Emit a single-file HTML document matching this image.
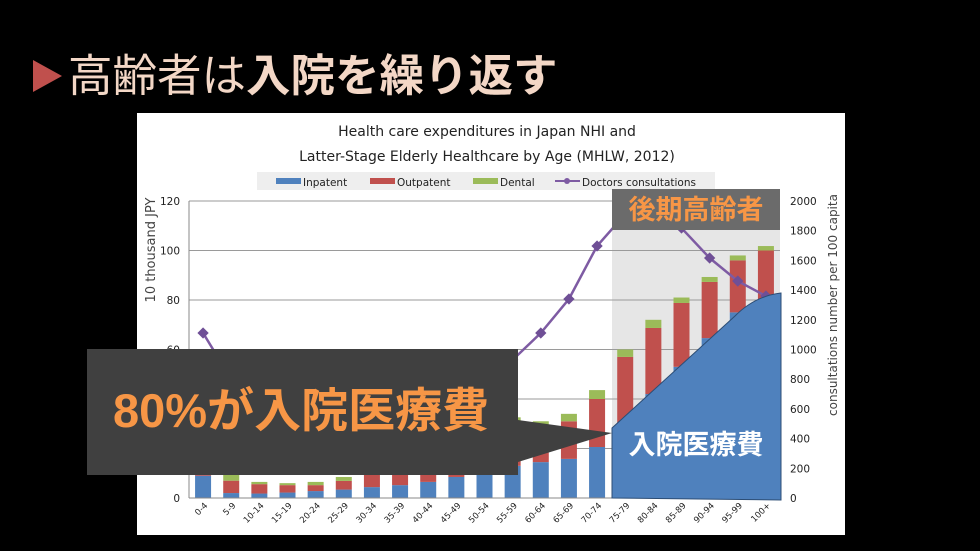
<!DOCTYPE html>
<html><head><meta charset="utf-8">
<style>
body{margin:0;background:#000;width:980px;height:551px;overflow:hidden;font-family:"Liberation Sans","Noto Sans CJK JP",sans-serif;}
</style></head>
<body>
<svg width="980" height="551" xmlns="http://www.w3.org/2000/svg" style="position:absolute;left:0;top:0">
<rect width="980" height="551" fill="#000"/>
<polygon points="33,60 33,92 62,76" fill="#c0504d"/>
<text x="68" y="91" font-size="44.5" fill="#f3d7c6" font-family="'Liberation Sans','Noto Sans CJK JP',sans-serif">高齢者は<tspan font-weight="bold">入院を繰り返す</tspan></text>
<rect x="137" y="113" width="708" height="422" fill="#fff"/>
<g font-family="'DejaVu Sans',sans-serif">
<text x="487" y="136" font-size="14" fill="#222" text-anchor="middle">Health care expenditures in Japan NHI and</text>
<text x="487" y="161" font-size="14" fill="#222" text-anchor="middle">Latter-Stage Elderly Healthcare by Age (MHLW, 2012)</text>
<g id="legend">
<rect x="257" y="172" width="458" height="18" fill="#eeeeee"/>
<rect x="276" y="178" width="25" height="6" fill="#4f81bd"/><text x="303" y="186" font-size="10.5" fill="#222">Inpatent</text>
<rect x="370" y="178" width="25" height="6" fill="#c0504d"/><text x="397" y="186" font-size="10.5" fill="#222">Outpatent</text>
<rect x="473" y="178" width="25" height="6" fill="#9bbb59"/><text x="500" y="186" font-size="10.5" fill="#222">Dental</text>
<line x1="555" y1="181" x2="580" y2="181" stroke="#7e5ba3" stroke-width="2"/><circle cx="567" cy="181" r="3" fill="#7e5ba3"/><text x="582" y="186" font-size="10.5" fill="#222">Doctors consultations</text>
</g>
<g id="chart"></g>
<text transform="translate(155,250) rotate(-90)" font-size="13" fill="#444" text-anchor="middle">10 thousand JPY</text>
<text transform="translate(837,305) rotate(-90)" font-size="12" fill="#444" text-anchor="middle">consultations number per 100 capita</text>
</g>
<rect x="612" y="189" width="168" height="41" fill="#6b6b6b"/>
<text x="696" y="219" font-size="27" font-weight="bold" fill="#f79646" text-anchor="middle">後期高齢者</text>
<path d="M612,428 L735,316 Q755,296 781,293 L781,500 L612,498 Z" fill="#4f81bd" stroke="#2c4d75" stroke-width="1"/>
<text x="696" y="454" font-size="27" font-weight="bold" fill="#fff" text-anchor="middle">入院医療費</text>
<polygon points="518,420 612,433 518,462" fill="#404040"/>
<rect x="87" y="349" width="431" height="126" fill="#404040"/>
<text x="113" y="427" font-size="47" font-weight="bold" fill="#f79646">80%が入院医療費</text>
</svg>
<script>
const categories=["0-4","5-9","10-14","15-19","20-24","25-29","30-34","35-39","40-44","45-49","50-54","55-59","60-64","65-69","70-74","75-79","80-84","85-89","90-94","95-99","100+"];
const inpatient=[9,2,1.8,2.2,2.8,3.4,4.4,5.2,6.5,8.5,11,13,14.5,15.8,20.6,30,42,53,64.6,75,80];
const outpatient=[11,5,3.8,3,2.4,3.5,6,8,9,11,13,17,14.2,15.2,19.4,27,26.7,25.8,22.7,21,20];
const dental=[2,2.3,0.9,0.8,1.3,1.6,1.8,2,2.2,2.4,2.5,2.6,2.3,3,3.6,3,3.3,2.2,2,2,1.8];
const consultations=[1111,800,500,420,480,560,620,640,680,740,820,930,1111,1340,1697,1912,1960,1818,1616,1461,1360];
const leftTicks=[0,20,40,60,80,100,120];
const rightTicks=[0,200,400,600,800,1000,1200,1400,1600,1800,2000];
const NS="http://www.w3.org/2000/svg";
const g=document.getElementById('chart');
const X0=189,X1=780,Y0=498,Y1=201;
const step=(X1-X0)/categories.length;
const xc=i=>X0+step*(i+0.5);
const yL=v=>Y0-(v/120)*(Y0-Y1);
const yR=v=>Y0-(v/2000)*(Y0-Y1);
function mk(t,a){const e=document.createElementNS(NS,t);for(const k in a)e.setAttribute(k,a[k]);g.appendChild(e);return e;}
let sh=mk('rect',{x:612,y:189,width:168,height:309,fill:'#e6e6e6'});


leftTicks.forEach(v=>{
 let l=mk('line',{x1:X0,x2:X1,y1:yL(v),y2:yL(v),stroke:'#9a9a9a','stroke-width':1});
 
 
 let t=mk('text',{x:180,y:yL(v)+4,'font-size':10.5,fill:'#222','text-anchor':'end'});t.textContent=v;
 
 
});
rightTicks.forEach(v=>{
 let t=mk('text',{x:790,y:yR(v)+4,'font-size':10.5,fill:'#222'});t.textContent=v;
 
 
});
mk('line',{x1:X0,x2:X0,y1:Y1,y2:Y0,stroke:'#888'});
const bw=16;
categories.forEach((c,i)=>{
 const x=xc(i)-bw/2;
 let a=mk('rect',{x:x,y:yL(inpatient[i]),width:bw,height:Y0-yL(inpatient[i]),fill:'#4f81bd'});
 
 
 const o=inpatient[i]+outpatient[i];
 let b=mk('rect',{x:x,y:yL(o),width:bw,height:yL(inpatient[i])-yL(o),fill:'#c0504d'});
 
 
 const d=o+dental[i];
 let e=mk('rect',{x:x,y:yL(d),width:bw,height:yL(o)-yL(d),fill:'#9bbb59'});
 
 
 let t=mk('text',{transform:`translate(${xc(i)+5},${506}) rotate(-45)`,'font-size':8.5,fill:'#222','text-anchor':'end'});t.textContent=c;
 
 
});
mk('line',{x1:X0,x2:X1,y1:Y0,y2:Y0,stroke:'#888'});
let pl=mk('polyline',{points:consultations.map((v,i)=>xc(i)+','+yR(v)).join(' '),fill:'none',stroke:'#7e5ba3','stroke-width':2.5});


consultations.forEach((v,i)=>{
 let p=mk('rect',{x:xc(i)-4,y:yR(v)-4,width:8,height:8,fill:'#6f4f96',transform:`rotate(45 ${xc(i)} ${yR(v)})`});
 
 
});
</script>
</body></html>
